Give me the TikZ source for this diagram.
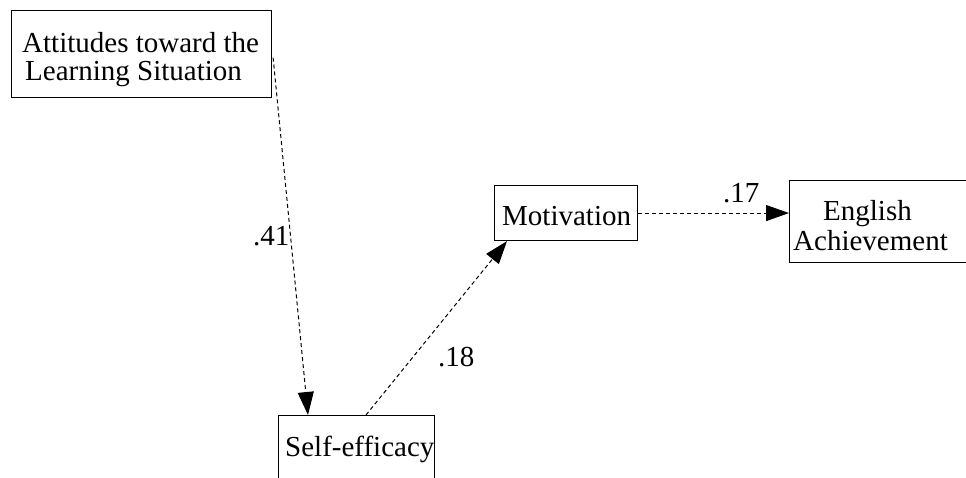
\documentclass[tikz,border=0pt]{standalone}
\usepackage{fontspec}
\setmainfont{Liberation Serif}
\usetikzlibrary{arrows.meta}
\begin{document}
\begin{tikzpicture}[x=1pt,y=-1pt,
  box/.style={draw, line width=1.1pt, rectangle, inner sep=0pt, anchor=north west},
  txt/.style={inner sep=0pt, anchor=base west, font=\fontsize{29}{34}\selectfont},
  path/.style={line width=1pt, dash pattern=on 4pt off 3pt,
    -{Triangle[length=23pt,width=16pt]}}]
\useasboundingbox (0,0) rectangle (966,477);
\clip (0,0) rectangle (966,477);
% boxes
\node[box, minimum width=260pt, minimum height=87pt] (att) at (11,10) {};
\node[box, minimum width=156pt, minimum height=90pt] (self) at (278,415) {};
\node[box, minimum width=143pt, minimum height=55pt] (mot) at (494,185) {};
\node[box, minimum width=200pt, minimum height=82pt] (eng) at (789,180) {};
% box texts
\node[txt] (attA) at (22,52) {Attitudes toward the};
\node[txt] (attB) at (25,80) {Learning Situation};
\node[txt] (selfT) at (285,456) {Self-efficacy};
\node[txt] (motT) at (502,225) {Motivation};
\node[txt] (engA) at (823,220) {English};
\node[txt] (engB) at (793,250) {Achievement};
% paths
\draw[path] ([xshift=1pt,yshift=-3.5pt]att.east) -- ([xshift=30pt]self.north west);
\draw[path] ([xshift=88pt]self.north west) -- ([xshift=13pt]mot.south west);
\draw[path] (mot.east) -- (eng.west |- mot.east);
% coefficients
\node[txt] (c41) at (253,245) {.41};
\node[txt] (c18) at (438,366) {.18};
\node[txt] (c17) at (723,202) {.17};
\end{tikzpicture}
\end{document}
